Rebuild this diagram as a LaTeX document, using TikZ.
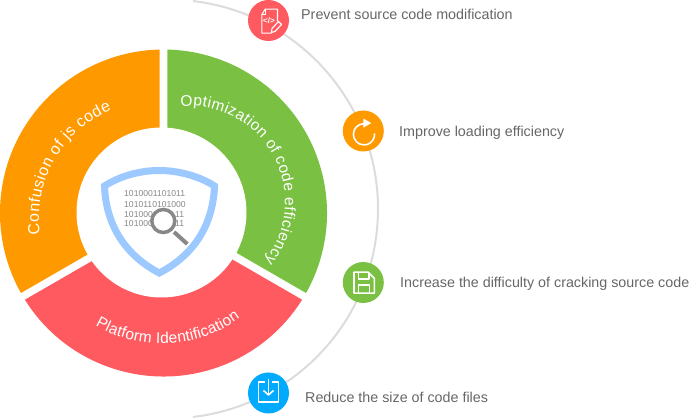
\documentclass[tikz,border=0pt]{standalone}
\usepackage{fontspec}
\setmainfont{Liberation Sans}
\usetikzlibrary{calc,decorations.text}
\definecolor{cred}{HTML}{FF5A5F}
\definecolor{corange}{HTML}{FF9900}
\definecolor{cgreen}{HTML}{7AC143}
\definecolor{cblue}{HTML}{00AAFF}
\definecolor{cshield}{HTML}{9CC9FF}
\definecolor{cglass}{HTML}{888888}
\definecolor{cring}{HTML}{DCDCDC}
\definecolor{clabel}{HTML}{666666}
% colour, start, end, outer offset start, outer offset end, inner offset start, inner offset end
\newcommand\ringseg[7]{\fill[#1] ($(C)+(#2+#4:163.5)$) arc[start angle=#2+#4,end angle=#3-#5,radius=163.5]
  -- ($(C)+(#3-#7:80)$) arc[start angle=#3-#7,end angle=#2+#6,radius=80] -- cycle;}
\newcommand\curvefont{\fontsize{16}{18}\selectfont}
\newcommand\curvefontb{\fontsize{15.5}{18}\selectfont}
\tikzset{
  x=1pt,y=1pt,
  badge/.style={circle,minimum size=41pt,inner sep=0pt,text=white},
  feature/.style={anchor=west,text=clabel,font=\fontsize{14.3}{16}\selectfont,inner sep=0pt},
  binary/.style={anchor=west,text=cglass,font=\fontsize{8.6}{10}\selectfont,inner sep=0pt},
  iconline/.style={draw=white,line width=1.6pt,line join=round},
  curved/.style={decorate,decoration={text along path,text color=white,text align={fit to path},text={|\curvefont|#1}}},
  curvedb/.style={decorate,decoration={text along path,text color=white,text align={fit to path},text={|\curvefontb|#1}}},
}
\begin{document}
\begin{tikzpicture}
\useasboundingbox (0,0) rectangle (689,420);
\coordinate (C) at (163.5,207);
% outer ring
\draw[cring,line width=2pt] ($(168.6,211)+(83.3:209.4)$) arc[start angle=83.3,end angle=-83.3,radius=209.4];
% ring segments
\ringseg{corange}{90}{210}{1.36}{0.7}{2.8}{1.43}
\ringseg{cgreen}{-30}{90}{0.7}{1.36}{1.43}{2.8}
\ringseg{cred}{210}{330}{2.03}{2.03}{4.16}{4.16}
\fill[white] (161.5,207.5) circle[radius=85];
% curved labels
\path[curved={Confusion of js code}] ($(155,202)+(188:116)$) arc[start angle=188,end angle=112,radius=116];
\path[curvedb={Optimization of code efficiency}] ($(189,218)+(95:96)$) arc[start angle=95,end angle=-38,radius=96];
\path[curvedb={Platform Identification}] ($(161.8,209.5)+(240:133)$) arc[start angle=240,end angle=306,radius=133];
% shield
\draw[cshield,line width=7pt,line join=miter] (104.5,234)
  .. controls (120,244) and (140,249.5) .. (159.3,249.5)
  .. controls (178,249.5) and (199,244) .. (214.5,234)
  .. controls (213,195) and (194,165) .. (159.3,147)
  .. controls (125,165) and (106,195) .. cycle;
% binary text
\node[binary] (b1) at (124,226) {1010001101011};
\node[binary] (b2) at (124,215.5) {1010110101000};
\node[binary] (b3a) at (124,205.5) {101000};
\node[binary] (b3b) at (175,205.5) {11};
\node[binary] (b4a) at (124,196) {101000};
\node[binary] (b4b) at (175,196) {11};
% magnifier
\draw[cglass,line width=4pt] (174,188) -- (187.3,176);
\draw[cglass,fill=white,line width=3.5pt] (163.3,199) circle[radius=11.5];
% badges
\node[badge,fill=cred] (i1) at (268.5,399.5) {};
\node[badge,fill=corange] (i2) at (363.3,289) {};
\node[badge,fill=cgreen] (i3) at (363.3,137.5) {};
\node[badge,fill=cblue] (i4) at (268.5,27) {};
% icon: document
\begin{scope}[shift={(i1.center)}]
\draw[iconline,line width=1.1pt] (3,-12.7) -- (-6.7,-12.7) -- (-6.7,5.7) -- (-3.3,11.3) -- (9,11.3) -- (9,-1);
\draw[iconline,line width=1.1pt] (-6.7,5.7) -- (-3.3,5.7) -- (-3.3,11.3);
\node[text=white,inner sep=0pt,font=\bfseries\fontsize{8}{9}\selectfont] (code) at (0.5,0) {</>};
\draw[iconline,line width=1.1pt,fill=cred] (3,-12) -- (3.5,-8) -- (10,-1) -- (13,-4) -- (6.5,-11) -- cycle;
\end{scope}
% icon: reload
\begin{scope}[shift={(i2.center)}]
\draw[iconline] (0.7,7.3) arc[start angle=90,end angle=365,radius=10.6];
\fill[white] (0,12.5) -- (0,3.3) -- (8,7.9) -- cycle;
\end{scope}
% icon: floppy
\begin{scope}[shift={(i3.center)}]
\draw[iconline] (-9.3,10.3) -- (5,10.3) -- (11,4.3) -- (11,-10.7) -- (-9.3,-10.7) -- cycle;
\draw[iconline] (-5,10.3) -- (-5,3.7) -- (5.7,3.7) -- (5.7,9.6);
\draw[iconline] (-5,-10.7) -- (-5,-2.3) -- (6.3,-2.3) -- (6.3,-10.7);
\end{scope}
% icon: download
\begin{scope}[shift={(i4.center)}]
\draw[iconline] (-3.5,11) -- (-10,11) -- (-10,-9) -- (10,-9) -- (10,11) -- (3.5,11);
\draw[iconline] (0,14) -- (0,-2);
\draw[iconline] (-5,2.5) -- (0,-2) -- (5,2.5);
\end{scope}
% feature labels
\node[feature] (t1) at (301,405.5) {Prevent source code modification};
\node[feature] (t2) at (399,287.3) {Improve loading efficiency};
\node[feature] (t3) at (400,136.3) {Increase the difficulty of cracking source code};
\node[feature] (t4) at (305,22.5) {Reduce the size of code files};
\end{tikzpicture}
\end{document}
